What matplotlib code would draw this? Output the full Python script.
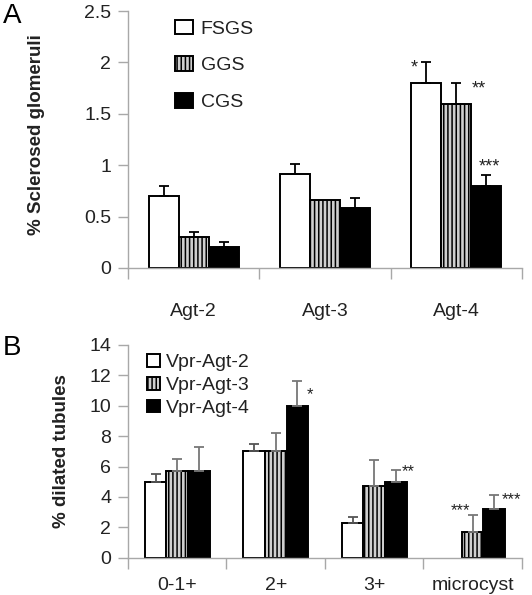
import numpy as np
import matplotlib.pyplot as plt

plt.rcParams['font.family'] = ['Liberation Sans', 'DejaVu Sans']
plt.rcParams['hatch.linewidth'] = 1.1

# Panel A data
groups_a = ['Agt-2', 'Agt-3', 'Agt-4']
series_a = ['FSGS', 'GGS', 'CGS']
fsgs = [0.70, 0.91, 1.80]
fsgs_err = [0.10, 0.10, 0.20]
ggs = [0.30, 0.66, 1.60]
ggs_err = [0.05, 0.0, 0.20]
cgs = [0.20, 0.58, 0.80]
cgs_err = [0.05, 0.10, 0.10]
stars_a = [(2, 0, '*'), (2, 1, '**'), (2, 2, '***')]

# Panel B data
groups_b = ['0-1+', '2+', '3+', 'microcyst']
series_b = ['Vpr-Agt-2', 'Vpr-Agt-3', 'Vpr-Agt-4']
agt2 = [5.0, 7.0, 2.3, 0.0]
agt2_err = [0.5, 0.5, 0.4, 0.0]
agt3 = [5.7, 7.0, 4.7, 1.7]
agt3_err = [0.8, 1.2, 1.7, 1.1]
agt4 = [5.7, 10.0, 5.0, 3.2]
agt4_err = [1.6, 1.6, 0.8, 0.9]
stars_b = [(1, 2, '*'), (2, 2, '**'), (3, 1, '***'), (3, 2, '***')]

styles = [dict(facecolor='white', hatch=None),
          dict(facecolor='#cfcfcf', hatch='||||'),
          dict(facecolor='black', hatch=None)]
axis_grey = '#a8a8a8'
text_col = '#222222'
fs = 14


def grouped_bars(ax, groups, vals, errs, labels, width, ecolors):
    x = np.arange(len(groups))
    tops = []
    for j, (v, e) in enumerate(zip(vals, errs)):
        xs = x + (j - 1) * width
        v = np.array(v)
        e = np.array(e)
        # zero bars are not drawn in the original
        show = v > 0
        ax.bar(xs[show], v[show], width, edgecolor='black', linewidth=1.4,
               label=labels[j], **styles[j])
        keep = e > 0
        ax.errorbar(xs[keep], v[keep], yerr=[np.zeros(keep.sum()), e[keep]],
                    fmt='none', ecolor=ecolors[j], elinewidth=1.3,
                    capsize=3.5, capthick=1.3)
        tops.append((xs, v + e))
    ax.set_xlim(-0.5, len(groups) - 0.5)
    ax.set_xticks(x)
    ax.set_xticklabels(groups)
    ax.set_xticks(np.arange(len(groups) + 1) - 0.5, minor=True)
    ax.tick_params(axis='x', which='major', length=0, labelsize=fs,
                   colors=text_col)
    ax.tick_params(axis='x', which='minor', length=8, color=axis_grey,
                   width=1)
    ax.tick_params(axis='y', length=7, color=axis_grey, width=1,
                   labelsize=fs, labelcolor=text_col, pad=5)
    for s in ['top', 'right']:
        ax.spines[s].set_visible(False)
    for s in ['left', 'bottom']:
        ax.spines[s].set_color(axis_grey)
        ax.spines[s].set_linewidth(1)
    return tops


def add_stars(ax, tops, stars, offsets, size):
    for g, j, s in stars:
        xs, tp = tops[j]
        dx, dy = offsets[(g, j)]
        ax.annotate(s, (xs[g], tp[g]), xytext=(dx, dy),
                    textcoords='offset points', ha='center', va='top',
                    fontsize=size, color=text_col, annotation_clip=False)


fig = plt.figure(figsize=(5.32, 5.95), dpi=100)

# Panel A
ax_a = fig.add_axes([0.2406, 0.5496, 0.7404, 0.4319])
tops_a = grouped_bars(ax_a, groups_a, [fsgs, ggs, cgs],
                      [fsgs_err, ggs_err, cgs_err], series_a, 0.228,
                      ['black', 'black', 'black'])
ax_a.set_ylim(0, 2.5)
ax_a.set_yticks([0, 0.5, 1, 1.5, 2, 2.5])
ax_a.set_yticklabels(['0', '0.5', '1', '1.5', '2', '2.5'])
ax_a.tick_params(axis='x', which='major', pad=25)
ax_a.set_ylabel('% Sclerosed glomeruli', fontsize=13.5, fontweight='bold',
                color=text_col)
ax_a.yaxis.set_label_coords(-0.21, 0.52)
leg = ax_a.legend(loc='upper left', bbox_to_anchor=(0.076, 1.035),
                  frameon=False, fontsize=fs, handlelength=0.9,
                  handleheight=0.8, labelspacing=0.95, handletextpad=0.4)
for t in leg.get_texts():
    t.set_color(text_col)
add_stars(ax_a, tops_a, stars_a,
          {(2, 0): (-9, 2), (2, 1): (16, 2), (2, 2): (2, 12.5)}, 13)
fig.text(0.005, 0.995, 'A', fontsize=20, va='top', ha='left', color='black')

# Panel B
ax_b = fig.add_axes([0.2406, 0.0627, 0.7404, 0.3575])
tops_b = grouped_bars(ax_b, groups_b, [agt2, agt3, agt4],
                      [agt2_err, agt3_err, agt4_err], series_b, 0.22,
                      ['#555555', '#777777', '#777777'])
ax_b.set_ylim(0, 14)
ax_b.set_yticks(range(0, 15, 2))
ax_b.tick_params(axis='x', which='major', pad=14)
ax_b.set_ylabel('% dilated tubules', fontsize=13.5, fontweight='bold',
                color=text_col)
ax_b.yaxis.set_label_coords(-0.147, 0.5)
leg = ax_b.legend(loc='upper left', bbox_to_anchor=(0.005, 1.04),
                  frameon=False, fontsize=fs, handlelength=0.65,
                  handleheight=0.65, labelspacing=0.28, handletextpad=0.3)
for t in leg.get_texts():
    t.set_color(text_col)
add_stars(ax_b, tops_b, stars_b,
          {(1, 2): (9, -4), (2, 2): (9, 4), (3, 1): (-9, 9),
           (3, 2): (12.7, 2)}, 12)
fig.text(0.005, 0.437, 'B', fontsize=20, va='top', ha='left', color='black')

fig.savefig('out.png', dpi=100)
